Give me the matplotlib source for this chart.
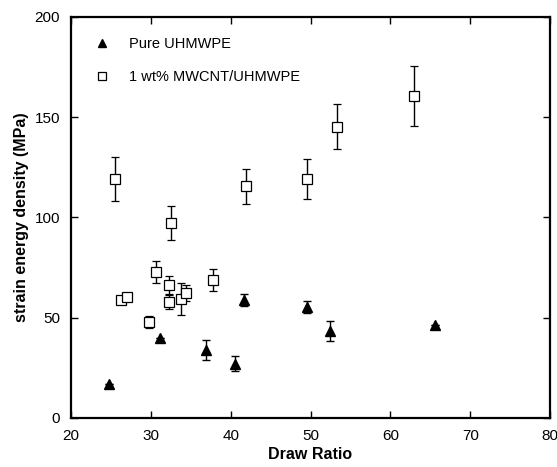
import matplotlib
matplotlib.use("Agg")
import matplotlib.pyplot as plt
from matplotlib.lines import Line2D

plt.rcParams['font.family'] = ['Liberation Sans', 'DejaVu Sans']

# Pure UHMWPE
pure_x = [24.7, 31.2, 36.9, 40.5, 41.7, 49.6, 52.4, 65.6]
pure_y = [16.8, 40.0, 34.0, 27.0, 58.6, 55.2, 43.5, 46.4]
pure_err = [0.0, 0.0, 5.0, 3.7, 3.0, 3.0, 5.0, 0.0]

# 1 wt% MWCNT/UHMWPE
cnt_x = [25.5, 26.2, 27.0, 29.8, 30.6, 32.5, 32.3, 32.3, 33.8, 34.4, 37.8, 41.9, 49.5, 53.3, 62.9]
cnt_y = [119.0, 58.9, 60.2, 48.0, 72.8, 97.4, 66.5, 57.8, 59.5, 62.3, 68.8, 115.4, 119.2, 145.3, 160.5]
cnt_err = [11.0, 1.0, 1.0, 3.0, 5.5, 8.5, 4.5, 3.3, 8.0, 4.0, 5.5, 8.5, 10.0, 11.0, 15.0]

fig = plt.figure(figsize=(5.57, 4.67), dpi=100)
ax = fig.add_axes([0.1275, 0.105, 0.86, 0.859])

ax.errorbar(pure_x, pure_y, yerr=pure_err, fmt='^', color='black', ms=7,
            ecolor='black', elinewidth=1, capsize=3, capthick=1)
ax.errorbar(cnt_x, cnt_y, yerr=cnt_err, fmt='s', mfc='white', mec='black',
            mew=0.9, ms=7, ecolor='black', elinewidth=1, capsize=3, capthick=1)

ax.set_xlim(20, 80)
ax.set_ylim(0, 200)
ax.set_xticks(range(20, 81, 10))
ax.set_yticks(range(0, 201, 50))
ax.tick_params(direction='in', length=5, width=1, top=True, right=True,
               labelsize=11, pad=8)
for s in ax.spines.values():
    s.set_linewidth(1.6)

ax.set_xlabel('Draw Ratio', fontsize=11.5, fontweight='bold', labelpad=3)
ax.set_ylabel('strain energy density (MPa)', fontsize=11.5, fontweight='bold', labelpad=4)

# legend without error bars on the handles
handles = [
    Line2D([], [], ls='none', marker='^', color='black', ms=6),
    Line2D([], [], ls='none', marker='s', mfc='white', mec='black', mew=0.9, ms=6),
]
ax.legend(handles, ['Pure UHMWPE', '1 wt% MWCNT/UHMWPE'], loc='upper left',
          frameon=False, fontsize=10.5, handletextpad=1.2, handlelength=1.4,
          borderaxespad=0.6, borderpad=0.8, labelspacing=1.3)

fig.savefig('out.png', dpi=100)
